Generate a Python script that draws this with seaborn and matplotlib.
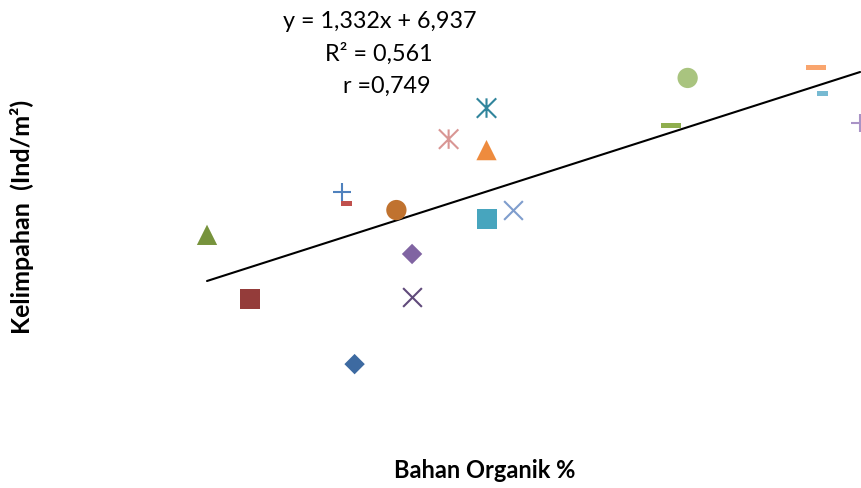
import numpy as np
import pandas as pd
import matplotlib
matplotlib.use("Agg")
import matplotlib.pyplot as plt
import seaborn as sns
from matplotlib.path import Path

# ---- data ----
bahan_organik = [2.13, 1.33, 1.00, 2.57, 3.14, 2.45, 2.03, 2.07, 2.57,
                 3.14, 3.14, 3.34, 2.85, 4.68, 4.55, 5.66, 5.71, 6.00]
kelimpahan = [5.62, 7.70, 9.74, 7.76, 13.78, 10.53, 11.10, 10.75, 9.13,
              10.24, 12.44, 10.53, 12.79, 14.74, 13.24, 15.06, 14.23, 13.30]
series_colors = ["#3D6AA1", "#943C3A", "#77933C", "#604A7B", "#31859C",
                 "#C0722F", "#4F81BD", "#C0504D", "#8064A2", "#47A5BE",
                 "#EE8B3E", "#7F9DCD", "#D99694", "#A9C47F", "#8FAE4E",
                 "#F9A56E", "#77BAD2", "#A993C6"]
series_markers = ["diamond", "square", "triangle", "x", "star", "circle",
                  "plus", "shortdash", "diamond", "square", "triangle", "x",
                  "star", "circle", "dash", "dash", "shortdash", "plus"]
slope = 1.332
intercept = 6.937
eq_lines = ["y = 1,332x + 6,937", "R\u00b2 = 0,561", "r =0,749"]
x_label = "Bahan Organik %"
y_label = "Kelimpahan  (Ind/m\u00b2)"

df = pd.DataFrame({"x": bahan_organik, "y": kelimpahan,
                   "color": series_colors, "marker": series_markers})

# ---- marker styles ----
star_path = Path([(0, -1), (0, 1), (-1, -1), (1, 1), (-1, 1), (1, -1)],
                 [Path.MOVETO, Path.LINETO, Path.MOVETO, Path.LINETO,
                  Path.MOVETO, Path.LINETO])
long_dash = [(-1, -0.25), (1, -0.25), (1, 0.25), (-1, 0.25), (-1, -0.25)]
short_dash = [(-1, -0.45), (1, -0.45), (1, 0.45), (-1, 0.45), (-1, -0.45)]
style = {
    "diamond":   dict(marker="D", ms=10.4, kind="filled"),
    "square":    dict(marker="s", ms=14.4, kind="filled"),
    "triangle":  dict(marker="^", ms=14.6, kind="filled"),
    "circle":    dict(marker="o", ms=14.6, kind="filled"),
    "dash":      dict(marker=long_dash, ms=14.4, kind="filled"),
    "shortdash": dict(marker=short_dash, ms=8.0, kind="filled"),
    "x":         dict(marker="x", ms=13.5, kind="line"),
    "plus":      dict(marker="+", ms=13.0, kind="line"),
    "star":      dict(marker=star_path, ms=14.0, kind="path"),
}

sns.set_style("white")
fig = plt.figure(figsize=(8.62, 4.89), dpi=100)
ax = fig.add_axes([0, 0, 1, 1])
ax.set_xlim(-0.585, 6.015)
ax.set_ylim(1.672, 17.256)
ax.axis("off")

# trendline over the data range
xs = np.array([min(bahan_organik), max(bahan_organik)])
line_df = pd.DataFrame({"x": xs, "y": slope * xs + intercept})
sns.lineplot(data=line_df, x="x", y="y", color="black", linewidth=1.5, ax=ax,
             zorder=1)

for _, row in df.iterrows():
    st = style[row["marker"]]
    sub = pd.DataFrame({"x": [row["x"]], "y": [row["y"]]})
    kw = dict(data=sub, x="x", y="y", marker=st["marker"], s=st["ms"] ** 2,
              ax=ax, zorder=3, clip_on=False, legend=False)
    if st["kind"] == "filled":
        sns.scatterplot(color=row["color"], edgecolor="none", linewidth=0, **kw)
    elif st["kind"] == "line":
        sns.scatterplot(color=row["color"], linewidth=1.5, **kw)
    else:
        sns.scatterplot(color=row["color"], edgecolor=row["color"],
                        facecolor="none", linewidth=1.5, **kw)

# equation text
font = "Lato"
fig.text(380 / 862, 1 - 22 / 489, eq_lines[0], ha="center", va="center",
         fontsize=16.8, family=font, color="black")
fig.text(379 / 862, 1 - 54 / 489, eq_lines[1], ha="center", va="center",
         fontsize=16.8, family=font, color="black")
fig.text(387 / 862, 1 - 86 / 489, eq_lines[2], ha="center", va="center",
         fontsize=16.8, family=font, color="black")

# axis titles
fig.text(485 / 862, 1 - 471 / 489, x_label, ha="center", va="center",
         fontsize=17, fontweight="bold", family=font, color="black")
fig.text(22 / 862, 1 - 217 / 489, y_label, ha="center", va="center",
         rotation=90, fontsize=18, fontweight="bold", family=font,
         color="black")

fig.savefig("out.png", dpi=100)
